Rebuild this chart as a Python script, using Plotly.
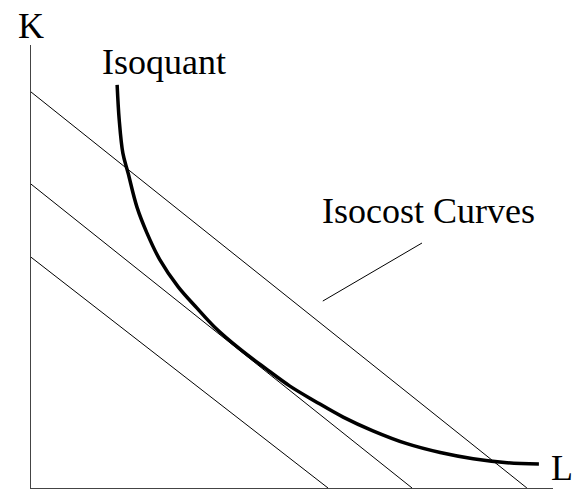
import plotly.graph_objects as go

# Isoquant curve (L, K) points
iso_L = [1.65, 1.69, 1.76, 1.86, 2.03, 2.22, 2.47, 2.82, 3.18, 3.52, 4.00,
         4.48, 4.96, 5.44, 5.98, 6.55, 7.20, 7.84, 8.47, 9.12, 9.73]
iso_K = [9.10, 8.31, 7.56, 7.11, 6.34, 5.76, 5.15, 4.54, 4.06, 3.63, 3.14,
         2.71, 2.30, 1.96, 1.60, 1.29, 1.00, 0.80, 0.66, 0.57, 0.54]

# Isocost lines: K-intercept and L-intercept
cost_K0 = [8.94, 6.86, 5.21]
cost_L0 = [9.50, 7.30, 5.69]

# Pointer line for "Isocost Curves" label
ptr_L = [5.59, 7.49]
ptr_K = [4.22, 5.53]

FONT = "Liberation Serif, Times New Roman, serif"

fig = go.Figure()
for k0, l0 in zip(cost_K0, cost_L0):
    fig.add_trace(go.Scatter(x=[0, l0], y=[k0, 0], mode="lines",
                             line=dict(color="black", width=1), hoverinfo="skip"))
fig.add_trace(go.Scatter(x=iso_L, y=iso_K, mode="lines",
                         line=dict(color="black", width=3.5, shape="spline", smoothing=1.0),
                         hoverinfo="skip"))
fig.add_trace(go.Scatter(x=ptr_L, y=ptr_K, mode="lines",
                         line=dict(color="black", width=1), hoverinfo="skip"))

ann = dict(showarrow=False, font=dict(family=FONT, size=36, color="black"),
           xref="paper", yref="paper", xanchor="center", yanchor="middle")
fig.add_annotation(text="K", x=0.0, y=1.042, **ann)
fig.add_annotation(text="L", x=1.018, y=0.045, **ann)
fig.add_annotation(text="Isoquant", x=0.254, y=0.962, **ann)
fig.add_annotation(text="Isocost Curves", x=0.761, y=0.625, **ann)

fig.update_layout(
    width=574, height=496,
    margin=dict(l=31, r=21, t=45, b=8),
    paper_bgcolor="white", plot_bgcolor="white",
    showlegend=False,
    xaxis=dict(range=[0, 10], showgrid=False, zeroline=False, showticklabels=False,
               ticks="", showline=True, linecolor="#444", linewidth=1),
    yaxis=dict(range=[0, 10], showgrid=False, zeroline=False, showticklabels=False,
               ticks="", showline=True, linecolor="#444", linewidth=1),
)
fig.write_html("out.html", config={"displayModeBar": False},
               post_script="document.body.style.margin='0px';document.body.style.overflow='hidden';")
